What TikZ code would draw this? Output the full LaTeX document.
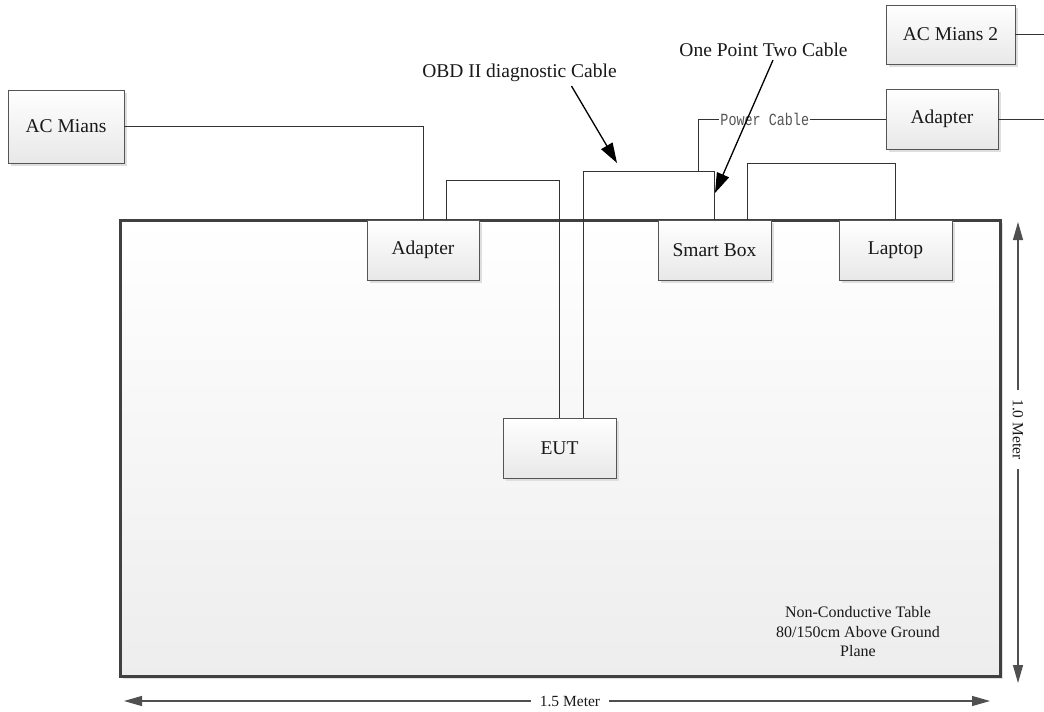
\documentclass[tikz,border=0pt]{standalone}
\usepackage{fontspec}
\setmainfont{Liberation Serif}
\newfontfamily\monof{Liberation Mono}
\usetikzlibrary{shadows,arrows.meta,calc}
\definecolor{boxcol}{HTML}{555555}
\definecolor{cablecol}{HTML}{333333}
\definecolor{tabcol}{HTML}{404040}
\definecolor{dimcol}{HTML}{505050}
\definecolor{pccol}{HTML}{555555}
\begin{document}
\begin{tikzpicture}[x=1pt,y=-1pt,
  font=\fontsize{19.5}{22}\selectfont,
  box/.style={draw=boxcol, line width=0.9pt, top color=white, bottom color=black!9,
    inner sep=0pt, text=black!90,
    drop shadow={shadow xshift=3pt, shadow yshift=-3pt, fill=black!13, opacity=1}},
  tablebox/.style={draw=tabcol, line width=3pt, top color=white, bottom color=black!7,
    inner sep=0pt,
    drop shadow={shadow xshift=3pt, shadow yshift=-3pt, fill=black!12, opacity=1}},
  cable/.style={draw=cablecol, line width=1pt},
  callout/.style={draw=black, line width=1.3pt, -{Triangle[length=20pt,width=13pt]}},
  dimline/.style={draw=dimcol, line width=1.2pt,
    {Triangle[length=18pt,width=10pt]}-{Triangle[length=18pt,width=10pt]}},
  lbl/.style={inner sep=1pt, text=black!90},
  dimlbl/.style={fill=white, inner xsep=9pt, inner ysep=3pt, text=black!90,
    font=\fontsize{15.5}{18}\selectfont},
  pclbl/.style={fill=white, inner sep=1pt, text=pccol,
    font=\fontsize{17}{19}\monof}
]
\useasboundingbox (0,0) rectangle (1044,712);
\fill[white] (0,0) rectangle (1044,712);

% table
\node[tablebox, minimum width=880pt, minimum height=456pt] (tab) at (560,448) {};
\node[lbl, align=center, font=\fontsize{16}{19.5}\selectfont] (tabtxt) at (858,632)
  {Non-Conductive Table\\80/150cm Above Ground\\Plane};

% boxes
\node[box, minimum width=116pt, minimum height=73pt] (acm) at (66,126.5) {AC Mians};
\node[box, minimum width=112pt, minimum height=60pt] (adl) at (423,250) {Adapter};
\node[box, minimum width=113pt, minimum height=60pt] (smb) at (714.5,250) {Smart Box};
\node[box, minimum width=113pt, minimum height=60pt] (lap) at (895.5,250) {Laptop};
\node[box, minimum width=113pt, minimum height=60pt] (eut) at (559.5,448) {EUT};
\node[box, minimum width=112pt, minimum height=60pt] (adr) at (942,119) {Adapter};
\node[box, minimum width=129pt, minimum height=59pt] (acm2) at (950.5,34.5) {AC Mians 2};

% cables
\draw[cable] (acm.east) -| (adl.north);
\draw[cable] ([xshift=23pt]adl.north) -- ++(0,-39) -| (eut.north);
\draw[cable] ([xshift=23.5pt]eut.north) -- ++(0,-246) -| (smb.north);
\coordinate (pj) at (698,172);
\draw[cable] (pj) |- node[pclbl, pos=0.678] {\scalebox{0.79}[1]{Power Cable}} (adr.west);
\draw[cable] ([xshift=32.5pt]smb.north) -- ++(0,-56) -| (lap.north);
\coordinate (e1) at (1044,34.5);
\coordinate (e2) at (1044,119);
\draw[cable] (acm2.east) -- (e1);
\draw[cable] (adr.east) -- (e2);

% callouts
\node[lbl] (obdl) at (519.5,73) {OBD II diagnostic Cable};
\coordinate (obdt) at (617,163);
\draw[callout] ([xshift=52pt,yshift=-3pt]obdl.south) -- (obdt);
\node[lbl] (opl) at (763.5,50) {One Point Two Cable};
\coordinate (opt) at (715,193);
\draw[callout] ([xshift=9.5pt,yshift=-2pt]opl.south) -- (opt);

% dimensions
\coordinate (v1) at (1018,222);
\coordinate (v2) at (1018,683);
\draw[dimline] (v1) -- node[dimlbl, rotate=-90, pos=0.45] {1.0 Meter} (v2);
\coordinate (h1) at (124,701);
\coordinate (h2) at (990,701);
\draw[dimline] (h1) -- node[dimlbl, pos=0.515] {1.5 Meter} (h2);
\end{tikzpicture}
\end{document}
